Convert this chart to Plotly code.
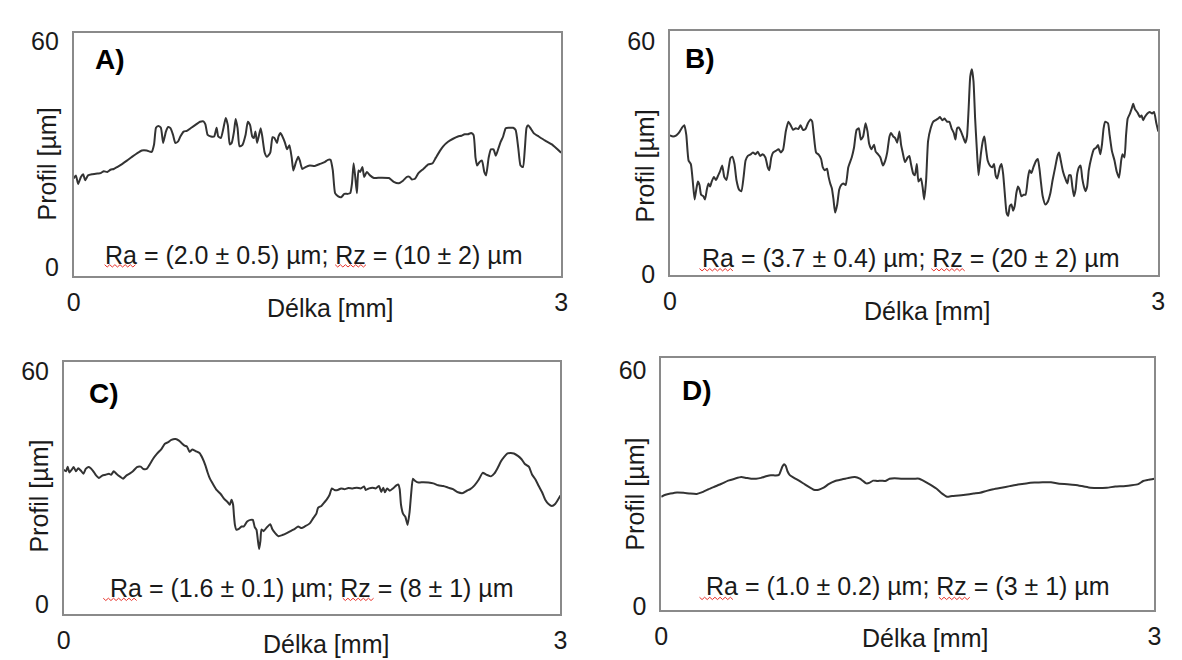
import plotly.graph_objects as go

# ---------------- data (x in mm, profile in µm) ----------------
A_x = [0.000, 0.014, 0.028, 0.045, 0.059, 0.071, 0.089, 0.116, 0.146, 0.166, 0.186, 0.207, 0.227, 0.247, 0.268,
       0.298, 0.328, 0.359, 0.389, 0.420, 0.450, 0.480, 0.495, 0.507, 0.521, 0.537, 0.551, 0.568, 0.582, 0.596,
       0.612, 0.626, 0.643, 0.657, 0.677, 0.697, 0.724, 0.754, 0.778, 0.799, 0.811, 0.825, 0.845, 0.865, 0.880,
       0.890, 0.906, 0.922, 0.936, 0.949, 0.961, 0.973, 0.987, 0.997, 1.009, 1.021, 1.038, 1.058, 1.072, 1.086,
       1.099, 1.109, 1.119, 1.129, 1.139, 1.151, 1.161, 1.176, 1.190, 1.210, 1.224, 1.236, 1.251, 1.261, 1.273,
       1.285, 1.301, 1.313, 1.328, 1.342, 1.352, 1.368, 1.382, 1.392, 1.407, 1.427, 1.453, 1.484, 1.514, 1.544,
       1.565, 1.581, 1.595, 1.609, 1.626, 1.646, 1.666, 1.686, 1.702, 1.713, 1.723, 1.733, 1.743, 1.753, 1.763,
       1.777, 1.788, 1.804, 1.824, 1.848, 1.889, 1.940, 1.970, 2.000, 2.027, 2.051, 2.067, 2.082, 2.102, 2.122,
       2.152, 2.183, 2.209, 2.229, 2.254, 2.274, 2.304, 2.335, 2.365, 2.386, 2.406, 2.426, 2.446, 2.461, 2.473,
       2.483, 2.497, 2.513, 2.527, 2.538, 2.554, 2.568, 2.584, 2.598, 2.615, 2.629, 2.643, 2.659, 2.679, 2.704,
       2.720, 2.736, 2.750, 2.765, 2.777, 2.787, 2.797, 2.811, 2.831, 2.862, 2.902, 2.943, 3.000]
A_y = [23.6, 24.4, 22.1, 24.0, 24.7, 23.1, 24.4, 24.7, 24.9, 25.0, 25.5, 25.3, 25.9, 26.1, 26.6,
       27.4, 28.3, 29.3, 30.2, 31.0, 31.0, 30.6, 32.6, 37.0, 37.5, 37.0, 33.0, 36.0, 37.2, 36.9,
       35.1, 33.0, 33.4, 34.7, 36.0, 36.2, 37.0, 37.9, 38.6, 38.7, 37.9, 35.1, 34.7, 34.7, 37.0,
       34.7, 34.3, 36.9, 39.6, 37.7, 32.6, 33.0, 36.0, 39.3, 36.9, 32.1, 32.4, 35.1, 38.6, 37.7,
       34.7, 34.3, 36.0, 33.0, 34.7, 36.9, 34.7, 30.4, 29.3, 30.4, 34.5, 34.3, 33.0, 34.7, 35.6,
       34.7, 33.0, 31.3, 32.4, 29.1, 25.7, 27.9, 29.3, 28.3, 26.1, 26.6, 27.0, 26.9, 27.4, 27.9,
       28.5, 28.5, 25.7, 19.7, 18.9, 18.6, 19.5, 19.5, 19.7, 22.3, 27.6, 24.0, 19.7, 25.7, 25.3,
       26.6, 24.0, 25.3, 24.4, 23.7, 23.8, 23.7, 22.7, 22.3, 23.0, 24.0, 24.0, 23.3, 23.6, 25.0,
       26.1, 27.3, 27.6, 29.1, 30.9, 32.1, 33.3, 34.1, 34.7, 34.9, 35.3, 35.3, 35.6, 35.1, 29.1,
       27.0, 27.9, 28.3, 25.3, 24.4, 29.1, 31.3, 31.3, 29.6, 31.7, 33.4, 34.7, 36.9, 37.0, 37.0,
       36.4, 31.7, 27.0, 26.6, 31.7, 37.0, 37.7, 36.9, 35.6, 34.7, 33.6, 32.6, 30.4]

B_x = [0.000, 0.020, 0.040, 0.055, 0.075, 0.089, 0.101, 0.115, 0.129, 0.142, 0.152, 0.162, 0.172, 0.182, 0.192,
       0.206, 0.216, 0.227, 0.237, 0.247, 0.257, 0.271, 0.283, 0.297, 0.307, 0.322, 0.334, 0.348, 0.362, 0.372,
       0.384, 0.397, 0.409, 0.425, 0.439, 0.453, 0.465, 0.479, 0.496, 0.510, 0.526, 0.540, 0.554, 0.570, 0.587,
       0.601, 0.611, 0.623, 0.635, 0.651, 0.668, 0.682, 0.696, 0.712, 0.728, 0.742, 0.757, 0.773, 0.789, 0.803,
       0.817, 0.833, 0.848, 0.864, 0.874, 0.884, 0.898, 0.914, 0.929, 0.939, 0.951, 0.965, 0.975, 0.985, 0.995,
       1.005, 1.015, 1.028, 1.040, 1.052, 1.066, 1.080, 1.096, 1.117, 1.131, 1.147, 1.161, 1.173, 1.187, 1.202,
       1.214, 1.224, 1.238, 1.254, 1.264, 1.279, 1.293, 1.309, 1.323, 1.335, 1.349, 1.359, 1.372, 1.384, 1.396,
       1.410, 1.420, 1.430, 1.444, 1.461, 1.471, 1.481, 1.495, 1.505, 1.517, 1.527, 1.542, 1.552, 1.562, 1.574,
       1.586, 1.602, 1.618, 1.633, 1.647, 1.659, 1.673, 1.687, 1.703, 1.717, 1.730, 1.744, 1.754, 1.764, 1.774,
       1.788, 1.800, 1.815, 1.825, 1.835, 1.845, 1.855, 1.865, 1.875, 1.885, 1.896, 1.910, 1.922, 1.932, 1.942,
       1.952, 1.966, 1.981, 1.991, 2.001, 2.011, 2.027, 2.037, 2.047, 2.057, 2.068, 2.078, 2.088, 2.098, 2.108,
       2.118, 2.128, 2.138, 2.148, 2.159, 2.173, 2.185, 2.199, 2.209, 2.221, 2.233, 2.250, 2.260, 2.270, 2.280,
       2.290, 2.306, 2.320, 2.337, 2.351, 2.367, 2.381, 2.391, 2.401, 2.415, 2.432, 2.442, 2.452, 2.462, 2.472,
       2.482, 2.492, 2.502, 2.513, 2.523, 2.533, 2.543, 2.553, 2.563, 2.573, 2.589, 2.604, 2.618, 2.630, 2.644,
       2.654, 2.664, 2.674, 2.691, 2.701, 2.715, 2.731, 2.745, 2.759, 2.772, 2.780, 2.792, 2.802, 2.812, 2.826,
       2.836, 2.846, 2.856, 2.873, 2.887, 2.897, 2.907, 2.917, 2.933, 2.947, 2.962, 2.974, 2.988, 3.000]
B_y = [35.7, 35.4, 35.7, 36.3, 37.7, 38.3, 35.8, 29.2, 28.3, 23.3, 19.2, 21.7, 23.8, 22.9, 20.4,
       20.0, 19.2, 21.7, 23.3, 22.5, 23.8, 25.0, 24.2, 25.4, 26.3, 27.9, 25.0, 24.2, 27.5, 29.8,
       30.2, 28.3, 24.2, 21.7, 21.3, 25.0, 29.2, 30.4, 30.8, 31.3, 30.8, 31.5, 30.4, 30.8, 30.0,
       27.5, 26.7, 30.0, 31.3, 31.7, 32.1, 31.3, 32.1, 36.7, 39.2, 38.3, 37.1, 37.5, 37.3, 38.3,
       37.1, 37.3, 38.8, 39.8, 39.3, 35.8, 31.3, 30.7, 29.6, 27.5, 26.7, 27.1, 25.0, 23.3, 22.1,
       19.2, 15.8, 17.9, 21.7, 22.9, 23.3, 22.9, 27.5, 30.0, 32.5, 37.1, 37.5, 34.6, 35.4, 38.8,
       36.7, 33.5, 32.1, 33.3, 31.5, 30.8, 30.0, 27.9, 29.2, 31.3, 35.4, 36.3, 35.4, 35.0, 33.8,
       36.7, 33.3, 31.3, 28.8, 30.0, 30.4, 28.3, 25.8, 25.4, 28.3, 23.8, 24.6, 22.5, 19.2, 24.2,
       34.2, 37.5, 39.2, 39.6, 40.0, 40.4, 39.6, 40.0, 39.2, 39.2, 37.5, 36.3, 34.6, 37.5, 37.7,
       36.7, 35.4, 33.8, 35.4, 42.5, 50.8, 52.7, 49.6, 40.0, 32.5, 25.4, 30.8, 34.2, 35.4, 32.1,
       29.2, 27.9, 27.5, 28.3, 25.4, 24.6, 27.5, 28.3, 25.8, 20.8, 15.8, 15.0, 17.5, 17.9, 16.3,
       17.5, 20.8, 22.5, 21.7, 20.0, 20.4, 20.4, 24.6, 26.7, 26.0, 27.5, 29.2, 29.6, 27.1, 23.3,
       20.0, 17.9, 18.5, 20.8, 24.2, 27.5, 30.4, 31.3, 29.2, 26.3, 24.2, 23.3, 25.4, 25.4, 22.5,
       20.0, 21.7, 25.8, 27.5, 27.9, 24.6, 22.5, 21.3, 22.5, 26.7, 30.0, 32.1, 32.5, 33.2, 30.8,
       33.3, 37.5, 39.2, 38.8, 35.8, 31.7, 29.2, 26.3, 24.8, 29.2, 30.8, 30.0, 35.8, 40.0, 41.3,
       42.5, 43.8, 42.5, 41.5, 40.4, 40.8, 39.6, 40.4, 41.3, 41.7, 41.3, 41.7, 38.8, 36.7]

C_x = [0.000, 0.014, 0.024, 0.034, 0.048, 0.060, 0.074, 0.088, 0.103, 0.119, 0.133, 0.149, 0.163, 0.179, 0.193,
       0.213, 0.233, 0.253, 0.273, 0.286, 0.302, 0.318, 0.338, 0.358, 0.378, 0.398, 0.418, 0.442, 0.465, 0.481,
       0.501, 0.517, 0.541, 0.565, 0.591, 0.611, 0.631, 0.650, 0.676, 0.696, 0.716, 0.730, 0.744, 0.760, 0.776,
       0.796, 0.820, 0.839, 0.855, 0.869, 0.883, 0.903, 0.923, 0.949, 0.969, 0.989, 1.003, 1.013, 1.023, 1.028,
       1.034, 1.042, 1.058, 1.074, 1.088, 1.108, 1.128, 1.142, 1.154, 1.164, 1.172, 1.180, 1.188, 1.194, 1.207,
       1.227, 1.247, 1.261, 1.277, 1.297, 1.321, 1.347, 1.373, 1.396, 1.416, 1.436, 1.456, 1.486, 1.506, 1.526,
       1.536, 1.556, 1.576, 1.591, 1.605, 1.619, 1.635, 1.655, 1.675, 1.695, 1.719, 1.745, 1.770, 1.794, 1.814,
       1.824, 1.844, 1.864, 1.884, 1.904, 1.918, 1.930, 1.940, 1.953, 1.969, 1.989, 2.009, 2.021, 2.029, 2.037,
       2.049, 2.063, 2.077, 2.089, 2.099, 2.109, 2.123, 2.143, 2.172, 2.202, 2.232, 2.262, 2.292, 2.322, 2.351,
       2.381, 2.411, 2.435, 2.455, 2.481, 2.507, 2.530, 2.554, 2.580, 2.600, 2.620, 2.640, 2.660, 2.680, 2.700,
       2.719, 2.745, 2.765, 2.785, 2.809, 2.829, 2.849, 2.869, 2.889, 2.908, 2.928, 2.948, 2.968, 3.000]
C_y = [34.6, 34.2, 35.4, 33.9, 34.6, 35.3, 34.2, 35.0, 34.4, 33.6, 34.8, 35.3, 35.0, 34.2, 33.3,
       32.5, 33.1, 33.3, 33.6, 33.3, 34.2, 33.6, 32.9, 32.3, 33.1, 33.6, 34.2, 35.3, 35.4, 34.8,
       34.8, 35.8, 37.5, 38.8, 40.0, 41.3, 41.7, 42.3, 42.5, 42.1, 41.3, 40.8, 40.6, 39.2, 39.8,
       39.4, 38.9, 37.5, 35.8, 33.9, 32.3, 30.8, 29.4, 28.3, 27.1, 26.3, 25.6, 26.9, 25.6, 22.9,
       20.4, 19.2, 19.4, 20.0, 20.0, 21.3, 21.7, 21.7, 19.8, 19.2, 16.7, 14.2, 16.3, 19.2, 18.8,
       19.8, 20.6, 19.2, 18.3, 17.5, 17.8, 18.3, 18.9, 19.4, 20.0, 19.6, 20.0, 20.8, 22.1, 23.3,
       24.8, 25.3, 26.3, 27.1, 28.1, 29.8, 29.4, 29.4, 29.8, 29.6, 29.9, 29.8, 30.0, 29.8, 30.3,
       29.4, 29.8, 30.0, 29.8, 30.4, 28.9, 30.0, 28.8, 29.8, 29.2, 29.8, 30.6, 30.8, 29.6, 25.6,
       23.3, 22.5, 20.4, 23.8, 28.8, 32.3, 31.7, 31.3, 31.4, 31.3, 31.1, 30.6, 30.4, 30.0, 29.6,
       28.8, 28.6, 29.2, 29.6, 30.6, 32.1, 33.8, 33.3, 32.9, 33.6, 35.0, 36.7, 37.9, 38.8, 38.9,
       38.8, 38.1, 37.3, 36.1, 35.4, 33.3, 32.1, 30.4, 28.8, 26.9, 25.8, 25.3, 25.8, 28.0]

D_x = [0.000, 0.026, 0.056, 0.096, 0.136, 0.176, 0.216, 0.246, 0.287, 0.327, 0.367, 0.407, 0.447, 0.487, 0.517,
       0.547, 0.577, 0.607, 0.637, 0.667, 0.697, 0.717, 0.727, 0.737, 0.747, 0.757, 0.768, 0.782, 0.808, 0.838,
       0.868, 0.898, 0.928, 0.958, 0.988, 1.018, 1.058, 1.098, 1.138, 1.178, 1.208, 1.228, 1.248, 1.269, 1.289,
       1.315, 1.339, 1.363, 1.389, 1.419, 1.459, 1.499, 1.539, 1.569, 1.599, 1.639, 1.679, 1.709, 1.739, 1.770,
       1.810, 1.850, 1.900, 1.940, 1.980, 2.020, 2.070, 2.120, 2.170, 2.220, 2.271, 2.321, 2.371, 2.421, 2.471,
       2.521, 2.571, 2.611, 2.661, 2.711, 2.762, 2.812, 2.862, 2.902, 2.932, 2.962, 3.000]
D_y = [27.8, 28.3, 28.6, 28.9, 28.8, 28.6, 28.5, 28.9, 29.7, 30.4, 31.1, 31.9, 32.4, 32.8, 32.6,
       32.4, 32.4, 32.6, 33.0, 33.3, 33.2, 33.4, 34.4, 35.5, 36.1, 35.7, 34.3, 33.3, 32.6, 31.9,
       31.1, 30.3, 29.6, 29.6, 30.1, 31.0, 31.8, 32.2, 32.6, 32.8, 32.4, 31.8, 31.2, 31.4, 31.9,
       31.8, 31.9, 31.8, 32.4, 32.5, 32.4, 32.4, 32.4, 32.4, 31.8, 30.8, 29.7, 28.6, 27.8, 28.0,
       28.1, 28.3, 28.6, 28.8, 29.3, 29.7, 30.1, 30.5, 30.9, 31.2, 31.4, 31.5, 31.5, 31.1, 31.0,
       30.8, 30.4, 30.1, 30.0, 30.1, 30.4, 30.5, 30.7, 31.0, 31.8, 32.1, 32.4]

panel_labels = ["A)", "B)", "C)", "D)"]
roughness = ["Ra = (2.0 ± 0.5) µm; Rz = (10 ± 2) µm",
             "Ra = (3.7 ± 0.4) µm; Rz = (20 ± 2) µm",
             "Ra = (1.6 ± 0.1) µm; Rz = (8 ± 1) µm",
             "Ra = (1.0 ± 0.2) µm; Rz = (3 ± 1) µm"]
x_title = "Délka [mm]"
y_title = "Profil [µm]"
x_tickvals = [0, 3]
y_tickvals = [0, 60]

# ---------------- layout helpers ----------------
W, H = 1182, 660
FONT = "Liberation Sans, Arial, sans-serif"
TXT = "#1a1a1a"

def px(x):
    return x / W

def py(y):
    return 1 - y / H

# plot boxes in pixels: left, right, top, bottom
boxes = [(59.3, 552.7, 19, 269), (662.7, 1157, 16, 268),
         (49.3, 552, 357, 617), (654, 1153, 353, 613)]
y_ranges = [[-2.31, 61.98], [-0.33, 62.67], [-2.58, 62.4], [-1.16, 63.2]]
label_pos = [(79.3, 46), (676, 45), (73.3, 390), (673.3, 387)]
ra_pos = [(302.4, 246.7), (905.8, 250), (301, 590), (904, 588)]
xt_pos = [(318.3, 302), (922.7, 305), (315, 648), (920.8, 641.7)]
yt_pos = [(32.2, 153), (637.4, 155), (24.1, 495), (627.2, 493)]
squiggles = [[(90.7, 123.3, 258.3), (324, 357, 258.3)],
             [(692.7, 726.7, 262.3), (927.3, 961.7, 262.3)],
             [(89.3, 123.3, 601.7), (331.7, 365, 601.7)],
             [(692.7, 727.3, 600.7), (935, 968.3, 600.7)]]

series = [(A_x, A_y), (B_x, B_y), (C_x, C_y), (D_x, D_y)]

fig = go.Figure()
layout = dict(width=W, height=H, margin=dict(l=0, r=0, t=0, b=0), autosize=False,
              paper_bgcolor="white", plot_bgcolor="white", showlegend=False,
              font=dict(family=FONT, color=TXT))
annotations = []
shapes = []

for i, ((xs, ys), (l, r, t, b)) in enumerate(zip(series, boxes)):
    n = "" if i == 0 else str(i + 1)
    fig.add_trace(go.Scatter(x=xs, y=ys, mode="lines", xaxis="x" + n, yaxis="y" + n,
                             line=dict(color="#333333", width=2, shape="spline", smoothing=0.5),
                             hoverinfo="skip"))
    layout["xaxis" + n] = dict(domain=[px(l), px(r)], range=[0, 3], anchor="y" + n,
                               showgrid=False, zeroline=False, showline=True, mirror=True,
                               linecolor="#8a8a8a", linewidth=1.5, ticks="",
                               tickvals=x_tickvals, ticktext=[str(v) for v in x_tickvals],
                               tickfont=dict(size=25, family=FONT, color=TXT),
                               ticklabelstandoff=3, fixedrange=True)
    layout["yaxis" + n] = dict(domain=[py(b), py(t)], range=y_ranges[i], anchor="x" + n,
                               showgrid=False, zeroline=False, showline=True, mirror=True,
                               linecolor="#8a8a8a", linewidth=1.5, ticks="",
                               tickvals=y_tickvals, ticktext=[str(v) for v in y_tickvals],
                               tickfont=dict(size=25, family=FONT, color=TXT),
                               ticklabelstandoff=8, fixedrange=True)
    lx, ly = label_pos[i]
    annotations.append(dict(text="<b>" + panel_labels[i] + "</b>", x=px(lx), y=py(ly),
                            xref="paper", yref="paper", xanchor="left", yanchor="middle",
                            showarrow=False, font=dict(size=28, family=FONT, color="#000")))
    rx, ry = ra_pos[i]
    annotations.append(dict(text=roughness[i], x=px(rx), y=py(ry), xref="paper", yref="paper",
                            xanchor="center", yanchor="middle", showarrow=False,
                            font=dict(size=25, family=FONT, color=TXT)))
    tx, ty = xt_pos[i]
    annotations.append(dict(text=x_title, x=px(tx), y=py(ty), xref="paper", yref="paper",
                            xanchor="center", yanchor="middle", showarrow=False,
                            font=dict(size=25, family=FONT, color=TXT)))
    vx, vy = yt_pos[i]
    annotations.append(dict(text=y_title, x=px(vx), y=py(vy), xref="paper", yref="paper",
                            xanchor="center", yanchor="middle", textangle=-90, showarrow=False,
                            font=dict(size=25, family=FONT, color=TXT)))
    for (x0, x1, yy) in squiggles[i]:
        pts = []
        k = 0
        x = x0
        while x <= x1:
            pts.append((px(x), py(yy + (1.2 if k % 2 else -1.2))))
            x += 2.6
            k += 1
        path = "M " + " L ".join(f"{a:.5f},{c:.5f}" for a, c in pts)
        shapes.append(dict(type="path", path=path, xref="paper", yref="paper",
                           line=dict(color="#e8342c", width=1)))

layout["annotations"] = annotations
layout["shapes"] = shapes
fig.update_layout(**layout)
fig.write_html("out.html")
